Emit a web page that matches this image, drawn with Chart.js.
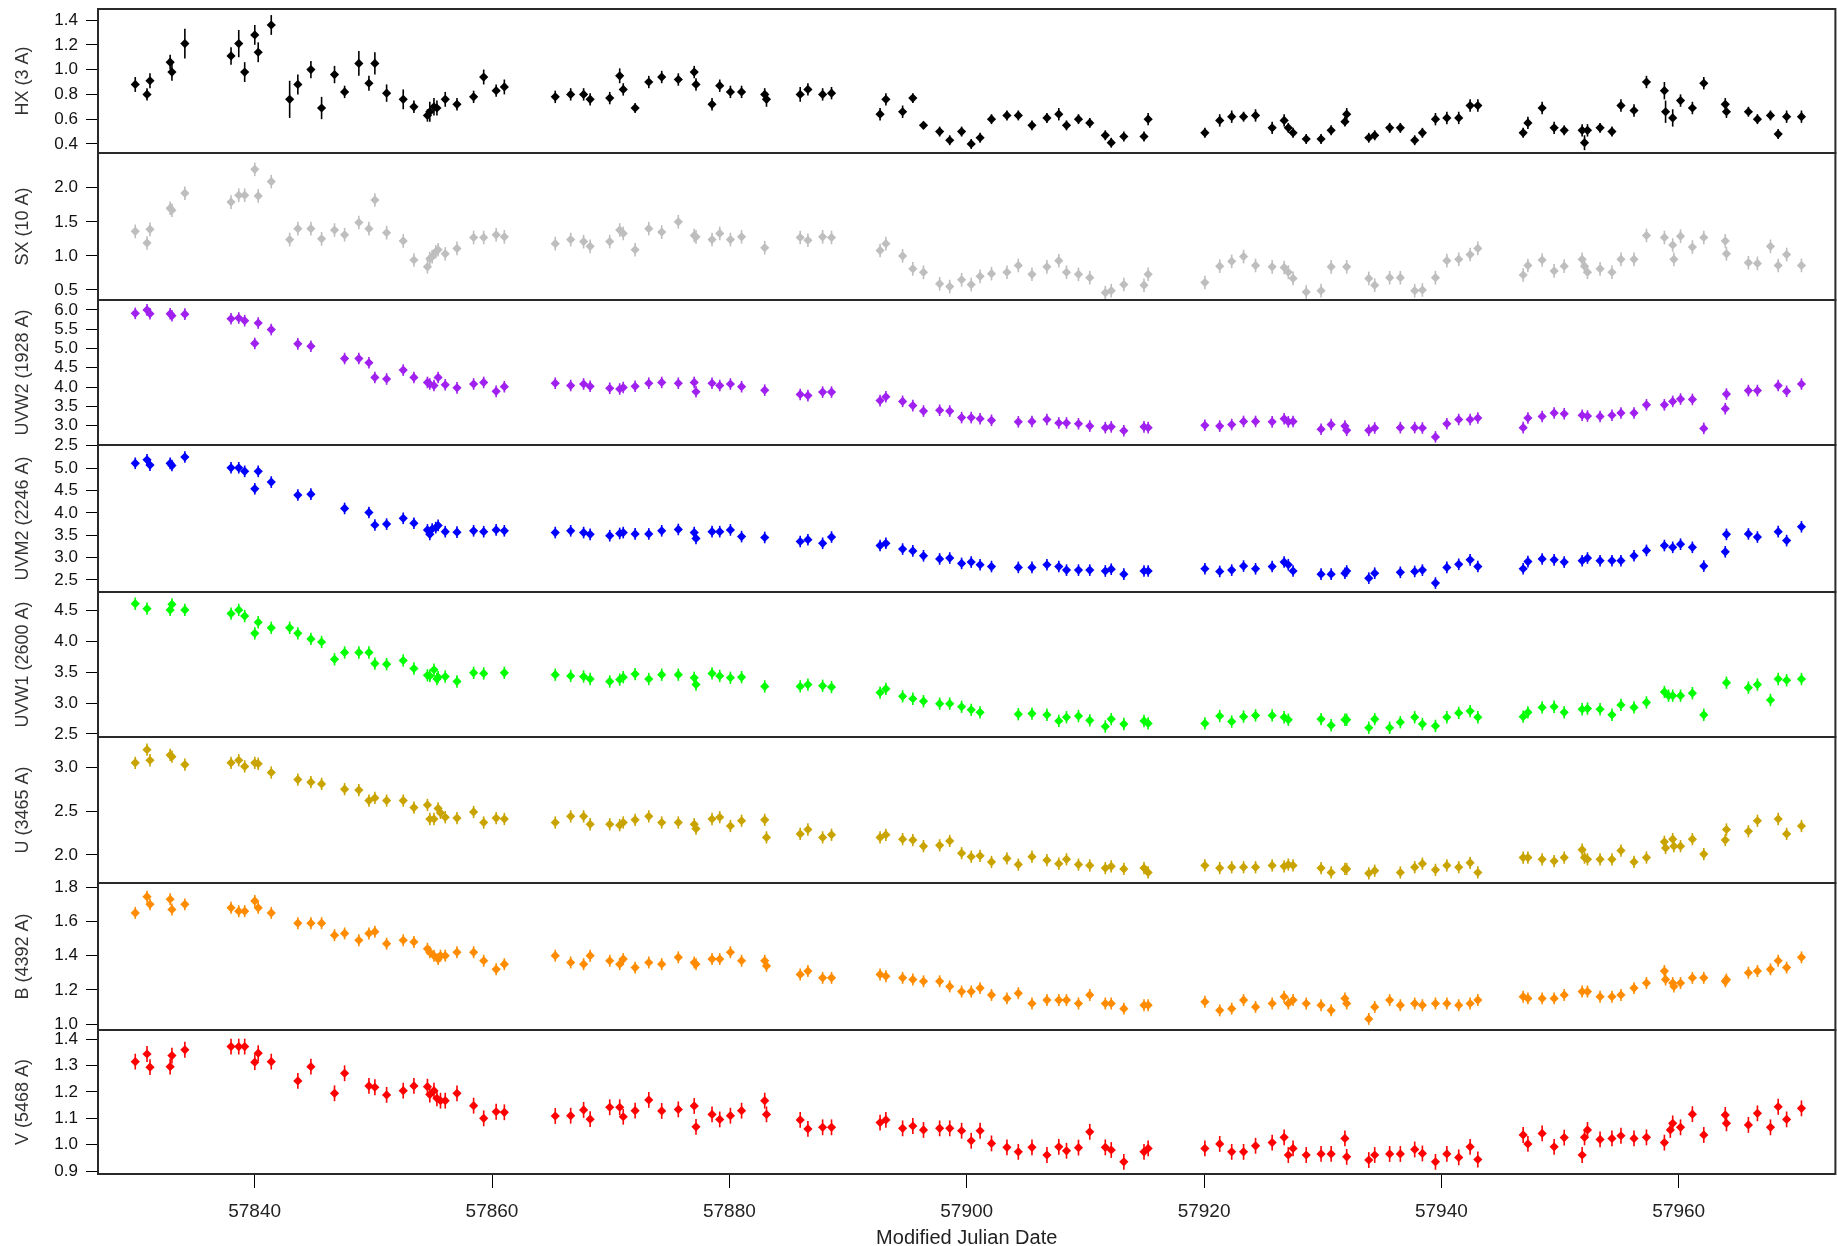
<!DOCTYPE html>
<html>
<head>
<meta charset="utf-8">
<script src="https://cdn.jsdelivr.net/npm/chart.js@4.4.0/dist/chart.umd.min.js"></script>
<style>
  html, body { margin: 0; padding: 0; background: #fff; overflow: hidden; }
  #wrap { position: relative; width: 1837px; height: 1246px; overflow: hidden; }
  #wrap canvas { position: absolute; left: 0; }
</style>
</head>
<body>
<div id="wrap"></div>
<script>
// ---- data (MJD and fluxes) ----
const hxDays = [57829.94, 57830.93, 57831.18, 57832.88, 57833.03, 57834.12, 57838.01, 57838.66, 57839.16, 57840.01, 57840.30, 57841.40,
  57842.95, 57843.64, 57844.74, 57845.64, 57846.73, 57847.58, 57848.78, 57849.63, 57850.13, 57851.12, 57852.52, 57853.42,
  57854.56, 57854.76, 57855.11, 57855.36, 57856.06, 57857.05, 57858.45, 57859.30, 57860.35, 57861.04,
  57865.33, 57866.63, 57867.72, 57868.27, 57869.92, 57870.76, 57871.06, 57872.06, 57873.21, 57874.30, 57875.70, 57877.04, 57877.19, 57878.54, 57879.19, 57880.09, 57881.03, 57882.98, 57883.13,
  57885.97, 57886.62, 57887.86, 57888.61, 57892.70, 57893.19, 57894.60, 57895.46, 57896.36,
  57897.72, 57898.57, 57899.57, 57900.38, 57901.13, 57902.09, 57903.39, 57904.35, 57905.50, 57906.76, 57907.76, 57908.41, 57909.42, 57910.37, 57911.68, 57912.18, 57913.24, 57914.94, 57915.29,
  57920.07, 57921.32, 57922.33, 57923.33, 57924.34, 57925.74, 57926.75, 57927.10, 57927.50, 57928.61, 57929.86, 57930.71, 57931.87, 57932.02, 57933.88, 57934.38, 57935.64, 57936.54, 57937.75, 57938.40, 57939.50, 57940.46, 57941.46, 57942.42, 57943.07,
  57946.89, 57947.29, 57948.49, 57949.50, 57950.35, 57951.86, 57952.06, 57952.31, 57953.37, 57954.37, 57955.13, 57956.23, 57957.28, 57958.79, 57958.89, 57959.49, 57960.15, 57961.15, 57962.11, 57963.92, 57964.02, 57965.87, 57966.63, 57967.73, 57968.38, 57969.09, 57970.34];
const hxRate = [0.88, 0.80, 0.91, 1.06, 0.98, 1.21, 1.11, 1.21, 0.98, 1.28, 1.14, 1.36,
  0.76, 0.88, 1.00, 0.69, 0.96, 0.82, 1.05, 0.89, 1.05, 0.81, 0.76, 0.70,
  0.63, 0.66, 0.70, 0.69, 0.76, 0.72, 0.78, 0.94, 0.83, 0.86,
  0.78, 0.80, 0.80, 0.76, 0.77, 0.95, 0.84, 0.69, 0.90, 0.94, 0.92, 0.98, 0.88, 0.72, 0.87, 0.82, 0.82, 0.80, 0.76,
  0.80, 0.84, 0.80, 0.81, 0.64, 0.76, 0.66, 0.77, 0.55,
  0.50, 0.43, 0.50, 0.40, 0.45, 0.60, 0.63, 0.63, 0.55, 0.61, 0.64, 0.55, 0.60, 0.57, 0.47, 0.41, 0.46, 0.46, 0.60,
  0.49, 0.59, 0.62, 0.62, 0.63, 0.53, 0.59, 0.53, 0.49, 0.44, 0.44, 0.51, 0.58, 0.64, 0.45, 0.47, 0.53, 0.53, 0.43, 0.49, 0.60, 0.61, 0.61, 0.71, 0.71,
  0.49, 0.57, 0.69, 0.53, 0.51, 0.51, 0.41, 0.51, 0.53, 0.50, 0.71, 0.67, 0.90, 0.83, 0.66, 0.61, 0.75, 0.69, 0.89, 0.72, 0.66, 0.66, 0.60, 0.63, 0.48, 0.62, 0.62];
const hxErr = [0.06, 0.05, 0.06, 0.06, 0.07, 0.12, 0.07, 0.11, 0.08, 0.08, 0.08, 0.08,
  0.15, 0.08, 0.07, 0.09, 0.07, 0.05, 0.10, 0.06, 0.09, 0.07, 0.08, 0.05,
  0.05, 0.08, 0.07, 0.06, 0.06, 0.05, 0.05, 0.06, 0.05, 0.06,
  0.05, 0.05, 0.05, 0.05, 0.05, 0.06, 0.05, 0.04, 0.05, 0.05, 0.05, 0.05, 0.05, 0.05, 0.05, 0.05, 0.05, 0.05, 0.06,
  0.06, 0.05, 0.05, 0.05, 0.05, 0.05, 0.05, 0.04, 0.03,
  0.04, 0.04, 0.04, 0.04, 0.04, 0.04, 0.04, 0.04, 0.04, 0.04, 0.05, 0.04, 0.04, 0.04, 0.04, 0.04, 0.04, 0.04, 0.05,
  0.04, 0.05, 0.05, 0.04, 0.05, 0.05, 0.05, 0.04, 0.04, 0.04, 0.04, 0.04, 0.04, 0.05, 0.04, 0.04, 0.04, 0.04, 0.04, 0.04, 0.05, 0.05, 0.05, 0.05, 0.05,
  0.04, 0.05, 0.05, 0.05, 0.04, 0.05, 0.06, 0.05, 0.04, 0.04, 0.05, 0.05, 0.05, 0.07, 0.09, 0.07, 0.05, 0.05, 0.05, 0.05, 0.05, 0.04, 0.04, 0.04, 0.04, 0.05, 0.05];

const sxDays = [57829.94, 57830.93, 57831.18, 57832.88, 57833.03, 57834.12, 57838.01, 57838.66, 57839.16, 57840.01, 57840.30, 57841.40,
  57842.95, 57843.64, 57844.74, 57845.64, 57846.73, 57847.58, 57848.78, 57849.63, 57850.13, 57851.12, 57852.52, 57853.42,
  57854.56, 57854.76, 57854.96, 57855.26, 57855.46, 57856.06, 57857.05, 57858.45, 57859.30, 57860.35, 57861.04,
  57865.33, 57866.63, 57867.72, 57868.27, 57869.92, 57870.76, 57871.06, 57872.06, 57873.21, 57874.30, 57875.70, 57877.04, 57877.19, 57878.54, 57879.19, 57880.09, 57881.03, 57882.98,
  57885.97, 57886.62, 57887.86, 57888.61, 57892.70, 57893.19, 57894.60, 57895.46, 57896.36,
  57897.72, 57898.57, 57899.57, 57900.38, 57901.13, 57902.09, 57903.39, 57904.35, 57905.50, 57906.76, 57907.76, 57908.41, 57909.42, 57910.37, 57911.68, 57912.18, 57913.24, 57914.94, 57915.29,
  57920.07, 57921.32, 57922.33, 57923.33, 57924.34, 57925.74, 57926.75, 57927.10, 57927.50, 57928.61, 57929.86, 57930.71, 57932.02, 57933.88, 57934.38, 57935.64, 57936.54, 57937.75, 57938.40, 57939.50, 57940.46, 57941.46, 57942.42, 57943.07,
  57946.89, 57947.29, 57948.49, 57949.50, 57950.35, 57951.86, 57952.06, 57952.31, 57953.37, 57954.37, 57955.13, 57956.23, 57957.28, 57958.79, 57959.49, 57959.59, 57960.15, 57961.15, 57962.11, 57963.92, 57964.02, 57965.87, 57966.63, 57967.73, 57968.38, 57969.09, 57970.34];
const sxRate = [1.36, 1.19, 1.39, 1.70, 1.67, 1.92, 1.79, 1.89, 1.89, 2.27, 1.88, 2.09,
  1.24, 1.40, 1.40, 1.25, 1.38, 1.31, 1.49, 1.40, 1.82, 1.34, 1.22, 0.94,
  0.84, 0.96, 0.99, 1.06, 1.09, 1.03, 1.11, 1.27, 1.27, 1.31, 1.28,
  1.18, 1.24, 1.21, 1.14, 1.21, 1.38, 1.33, 1.09, 1.40, 1.35, 1.50, 1.30, 1.28, 1.24, 1.33, 1.24, 1.28, 1.12,
  1.27, 1.23, 1.28, 1.27, 1.08, 1.18, 1.00, 0.81, 0.76,
  0.59, 0.55, 0.65, 0.58, 0.70, 0.74, 0.76, 0.86, 0.73, 0.84, 0.93, 0.76, 0.73, 0.68, 0.46, 0.49, 0.58, 0.57, 0.73,
  0.61, 0.85, 0.92, 0.99, 0.86, 0.84, 0.83, 0.76, 0.67, 0.47, 0.49, 0.84, 0.84, 0.67, 0.57, 0.68, 0.68, 0.49, 0.50, 0.68, 0.93, 0.95, 1.02, 1.11,
  0.72, 0.86, 0.94, 0.78, 0.85, 0.95, 0.85, 0.76, 0.81, 0.76, 0.95, 0.95, 1.30, 1.27, 1.16, 0.95, 1.29, 1.13, 1.27, 1.22, 1.03, 0.90, 0.89, 1.14, 0.86, 1.02, 0.86];

const uvw2Days = [57829.94, 57830.93, 57831.18, 57832.88, 57833.03, 57834.12, 57838.01, 57838.66, 57839.16, 57840.01, 57840.30, 57841.40,
  57843.64, 57844.74, 57847.58, 57848.78, 57849.63, 57850.13, 57851.12, 57852.52, 57853.42,
  57854.56, 57854.76, 57855.11, 57855.46, 57856.06, 57857.05, 57858.45, 57859.30, 57860.35, 57861.04,
  57865.33, 57866.63, 57867.72, 57868.27, 57869.92, 57870.76, 57871.06, 57872.06, 57873.21, 57874.30, 57875.70, 57877.04, 57877.19, 57878.54, 57879.19, 57880.09, 57881.03, 57882.98,
  57885.97, 57886.62, 57887.86, 57888.61, 57892.70, 57893.19, 57894.60, 57895.46, 57896.36,
  57897.72, 57898.57, 57899.57, 57900.38, 57901.13, 57902.09, 57904.35, 57905.50, 57906.76, 57907.76, 57908.41, 57909.42, 57910.37, 57911.68, 57912.18, 57913.24, 57914.94, 57915.29,
  57920.07, 57921.32, 57922.33, 57923.33, 57924.34, 57925.74, 57926.75, 57927.10, 57927.50, 57929.86, 57930.71, 57931.87, 57932.02, 57933.88, 57934.38, 57936.54, 57937.75, 57938.40, 57939.50, 57940.46, 57941.46, 57942.42, 57943.07,
  57946.89, 57947.29, 57948.49, 57949.50, 57950.35, 57951.86, 57952.31, 57953.37, 57954.37, 57955.13, 57956.23, 57957.28, 57958.79, 57959.49, 57960.15, 57961.15, 57962.11, 57963.92, 57964.02, 57965.87, 57966.63, 57968.38, 57969.09, 57970.34];
const uvw2Flux = [5.91, 6.00, 5.90, 5.90, 5.85, 5.89, 5.77, 5.79, 5.72, 5.13, 5.66, 5.49,
  5.12, 5.06, 4.74, 4.74, 4.63, 4.25, 4.21, 4.44, 4.25,
  4.12, 4.08, 4.04, 4.25, 4.06, 3.98, 4.08, 4.12, 3.89, 4.01,
  4.10, 4.04, 4.08, 4.02, 3.97, 3.95, 3.99, 4.02, 4.10, 4.12, 4.10, 4.12, 3.88, 4.10, 4.04, 4.08, 4.01, 3.92,
  3.81, 3.78, 3.87, 3.87, 3.65, 3.75, 3.63, 3.52, 3.38,
  3.40, 3.38, 3.21, 3.21, 3.18, 3.14, 3.10, 3.11, 3.16, 3.07, 3.07, 3.05, 2.99, 2.95, 2.97, 2.87, 2.97, 2.95,
  3.01, 2.99, 3.03, 3.11, 3.11, 3.10, 3.18, 3.10, 3.11, 2.91, 3.03, 2.99, 2.88, 2.88, 2.94, 2.95, 2.95, 2.94, 2.71, 3.05, 3.16, 3.16, 3.20,
  2.95, 3.20, 3.24, 3.33, 3.31, 3.27, 3.25, 3.24, 3.27, 3.33, 3.33, 3.54, 3.54, 3.63, 3.69, 3.68, 2.93, 3.44, 3.82, 3.91, 3.91, 4.04, 3.89, 4.08];

const uvm2Days = [57829.94, 57830.93, 57831.18, 57832.88, 57833.03, 57834.12, 57838.01, 57838.66, 57839.16, 57840.01, 57840.30, 57841.40,
  57843.64, 57844.74, 57847.58, 57849.63, 57850.13, 57851.12, 57852.52, 57853.42,
  57854.56, 57854.76, 57854.96, 57855.26, 57855.46, 57856.06, 57857.05, 57858.45, 57859.30, 57860.35, 57861.04,
  57865.33, 57866.63, 57867.72, 57868.27, 57869.92, 57870.76, 57871.06, 57872.06, 57873.21, 57874.30, 57875.70, 57877.04, 57877.19, 57878.54, 57879.19, 57880.09, 57881.03, 57882.98,
  57885.97, 57886.62, 57887.86, 57888.61, 57892.70, 57893.19, 57894.60, 57895.46, 57896.36,
  57897.72, 57898.57, 57899.57, 57900.38, 57901.13, 57902.09, 57904.35, 57905.50, 57906.76, 57907.76, 57908.41, 57909.42, 57910.37, 57911.68, 57912.18, 57913.24, 57914.94, 57915.29,
  57920.07, 57921.32, 57922.33, 57923.33, 57924.34, 57925.74, 57926.75, 57927.10, 57927.50, 57929.86, 57930.71, 57931.87, 57932.02, 57933.88, 57934.38, 57936.54, 57937.75, 57938.40, 57939.50, 57940.46, 57941.46, 57942.42, 57943.07,
  57946.89, 57947.29, 57948.49, 57949.50, 57950.35, 57951.86, 57952.31, 57953.37, 57954.37, 57955.13, 57956.23, 57957.28, 57958.79, 57959.49, 57960.15, 57961.15, 57962.11, 57963.92, 57964.02, 57965.87, 57966.63, 57968.38, 57969.09, 57970.34];
const uvm2Flux = [5.11, 5.19, 5.07, 5.11, 5.06, 5.25, 5.01, 5.01, 4.93, 4.54, 4.93, 4.69,
  4.40, 4.42, 4.10, 4.01, 3.73, 3.75, 3.88, 3.77,
  3.62, 3.52, 3.64, 3.67, 3.72, 3.58, 3.57, 3.60, 3.58, 3.62, 3.60,
  3.56, 3.60, 3.56, 3.52, 3.49, 3.54, 3.56, 3.53, 3.53, 3.60, 3.63, 3.56, 3.43, 3.58, 3.58, 3.62, 3.47, 3.45,
  3.36, 3.40, 3.32, 3.46, 3.27, 3.32, 3.19, 3.15, 3.04,
  2.97, 2.99, 2.87, 2.90, 2.84, 2.80, 2.78, 2.78, 2.84, 2.80, 2.72, 2.72, 2.72, 2.70, 2.74, 2.63, 2.70, 2.70,
  2.75, 2.69, 2.72, 2.81, 2.75, 2.80, 2.90, 2.84, 2.70, 2.63, 2.63, 2.65, 2.70, 2.54, 2.65, 2.67, 2.69, 2.72, 2.43, 2.78, 2.85, 2.95, 2.80,
  2.75, 2.91, 2.97, 2.95, 2.90, 2.93, 2.99, 2.93, 2.93, 2.93, 3.04, 3.16, 3.27, 3.23, 3.30, 3.23, 2.81, 3.13, 3.52, 3.53, 3.46, 3.58, 3.38, 3.69];

const uvw1Days = [57829.94, 57830.93, 57832.88, 57833.03, 57834.12, 57838.01, 57838.66, 57839.16, 57840.01, 57840.30, 57841.40,
  57842.95, 57843.64, 57844.74, 57845.64, 57846.73, 57847.58, 57848.78, 57849.63, 57850.13, 57851.12, 57852.52, 57853.42,
  57854.56, 57854.76, 57855.11, 57855.36, 57855.46, 57856.06, 57857.05, 57858.45, 57859.30, 57861.04,
  57865.33, 57866.63, 57867.72, 57868.27, 57869.92, 57870.76, 57871.06, 57872.06, 57873.21, 57874.30, 57875.70, 57877.04, 57877.19, 57878.54, 57879.19, 57880.09, 57881.03, 57882.98,
  57885.97, 57886.62, 57887.86, 57888.61, 57892.70, 57893.19, 57894.60, 57895.46, 57896.36,
  57897.72, 57898.57, 57899.57, 57900.38, 57901.13, 57904.35, 57905.50, 57906.76, 57907.76, 57908.41, 57909.42, 57910.37, 57911.68, 57912.18, 57913.24, 57914.94, 57915.29,
  57920.07, 57921.32, 57922.33, 57923.33, 57924.34, 57925.74, 57926.75, 57927.10, 57929.86, 57930.71, 57931.87, 57932.02, 57933.88, 57934.38, 57935.64, 57936.54, 57937.75, 57938.40, 57939.50, 57940.46, 57941.46, 57942.42, 57943.07,
  57946.89, 57947.29, 57948.49, 57949.50, 57950.35, 57951.86, 57952.31, 57953.37, 57954.37, 57955.13, 57956.23, 57957.28, 57958.79, 57959.14, 57959.49, 57960.15, 57961.15, 57962.11, 57964.02, 57965.87, 57966.63, 57967.73, 57968.38, 57969.09, 57970.34];
const uvw1Flux = [4.61, 4.53, 4.51, 4.60, 4.51, 4.45, 4.51, 4.41, 4.13, 4.31, 4.22,
  4.22, 4.13, 4.04, 3.99, 3.71, 3.82, 3.82, 3.82, 3.64, 3.63, 3.69, 3.56,
  3.45, 3.44, 3.54, 3.39, 3.42, 3.43, 3.35, 3.49, 3.48, 3.49,
  3.46, 3.44, 3.43, 3.39, 3.35, 3.38, 3.42, 3.47, 3.39, 3.46, 3.46, 3.41, 3.30, 3.48, 3.44, 3.41, 3.42, 3.27,
  3.27, 3.30, 3.28, 3.26, 3.17, 3.23, 3.11, 3.07, 3.03,
  2.99, 2.99, 2.94, 2.89, 2.85, 2.82, 2.83, 2.81, 2.71, 2.77, 2.79, 2.72, 2.62, 2.74, 2.66, 2.71, 2.67,
  2.67, 2.79, 2.70, 2.78, 2.80, 2.80, 2.77, 2.73, 2.74, 2.64, 2.73, 2.73, 2.60, 2.74, 2.60, 2.69, 2.77, 2.66, 2.63, 2.77, 2.84, 2.87, 2.77,
  2.78, 2.85, 2.93, 2.94, 2.85, 2.90, 2.91, 2.90, 2.81, 2.97, 2.93, 3.01, 3.18, 3.12, 3.12, 3.12, 3.16, 2.81, 3.33, 3.25, 3.30, 3.05, 3.39, 3.37, 3.39];

const uDays = [57829.94, 57830.93, 57831.18, 57832.88, 57833.03, 57834.12, 57838.01, 57838.66, 57839.16, 57840.01, 57840.30, 57841.40,
  57843.64, 57844.74, 57845.64, 57847.58, 57848.78, 57849.63, 57850.13, 57851.12, 57852.52, 57853.42,
  57854.56, 57854.76, 57855.11, 57855.46, 57855.66, 57856.06, 57857.05, 57858.45, 57859.30, 57860.35, 57861.04,
  57865.33, 57866.63, 57867.72, 57868.27, 57869.92, 57870.76, 57871.06, 57872.06, 57873.21, 57874.30, 57875.70, 57877.04, 57877.19, 57878.54, 57879.19, 57880.09, 57881.03, 57882.98, 57883.13,
  57885.97, 57886.62, 57887.86, 57888.61, 57892.70, 57893.19, 57894.60, 57895.46, 57896.36,
  57897.72, 57898.57, 57899.57, 57900.38, 57901.13, 57902.09, 57903.39, 57904.35, 57905.50, 57906.76, 57907.76, 57908.41, 57909.42, 57910.37, 57911.68, 57912.18, 57913.24, 57914.94, 57915.29,
  57920.07, 57921.32, 57922.33, 57923.33, 57924.34, 57925.74, 57926.75, 57927.10, 57927.50, 57929.86, 57930.71, 57931.87, 57932.02, 57933.88, 57934.38, 57936.54, 57937.75, 57938.40, 57939.50, 57940.46, 57941.46, 57942.42, 57943.07,
  57946.89, 57947.29, 57948.49, 57949.50, 57950.35, 57951.86, 57952.06, 57952.31, 57953.37, 57954.37, 57955.13, 57956.23, 57957.28, 57958.79, 57958.89, 57959.49, 57959.59, 57960.15, 57961.15, 57962.11, 57963.92, 57964.02, 57965.87, 57966.63, 57968.38, 57969.09, 57970.34];
const uFlux = [3.05, 3.20, 3.08, 3.14, 3.12, 3.03, 3.05, 3.08, 3.01, 3.05, 3.04, 2.94,
  2.86, 2.83, 2.81, 2.75, 2.74, 2.62, 2.65, 2.62, 2.62, 2.54,
  2.57, 2.41, 2.41, 2.53, 2.48, 2.43, 2.42, 2.49, 2.37, 2.42, 2.41,
  2.37, 2.44, 2.44, 2.35, 2.35, 2.34, 2.37, 2.40, 2.44, 2.37, 2.37, 2.35, 2.30, 2.41, 2.43, 2.33, 2.39, 2.40, 2.20,
  2.24, 2.29, 2.20, 2.23, 2.20, 2.23, 2.18, 2.17, 2.10,
  2.11, 2.16, 2.02, 1.98, 1.99, 1.92, 1.96, 1.89, 1.98, 1.94, 1.90, 1.95, 1.89, 1.88, 1.85, 1.87, 1.84, 1.85, 1.80,
  1.88, 1.85, 1.86, 1.86, 1.86, 1.88, 1.87, 1.89, 1.88, 1.85, 1.80, 1.84, 1.84, 1.79, 1.82, 1.80, 1.86, 1.90, 1.83, 1.88, 1.86, 1.91, 1.80,
  1.97, 1.97, 1.95, 1.93, 1.97, 2.06, 1.97, 1.95, 1.95, 1.95, 2.05, 1.92, 1.97, 2.15, 2.08, 2.18, 2.10, 2.10, 2.18, 2.01, 2.17, 2.29, 2.27, 2.39, 2.41, 2.24, 2.33];

const bDays = [57829.94, 57830.93, 57831.18, 57832.88, 57833.03, 57834.12, 57838.01, 57838.66, 57839.16, 57840.01, 57840.30, 57841.40,
  57843.64, 57844.74, 57845.64, 57846.73, 57847.58, 57848.78, 57849.63, 57850.13, 57851.12, 57852.52, 57853.42,
  57854.56, 57854.76, 57855.11, 57855.46, 57855.66, 57856.06, 57857.05, 57858.45, 57859.30, 57860.35, 57861.04,
  57865.33, 57866.63, 57867.72, 57868.27, 57869.92, 57870.76, 57871.06, 57872.06, 57873.21, 57874.30, 57875.70, 57877.04, 57877.19, 57878.54, 57879.19, 57880.09, 57881.03, 57882.98, 57883.13,
  57885.97, 57886.62, 57887.86, 57888.61, 57892.70, 57893.19, 57894.60, 57895.46, 57896.36,
  57897.72, 57898.57, 57899.57, 57900.38, 57901.13, 57902.09, 57903.39, 57904.35, 57905.50, 57906.76, 57907.76, 57908.41, 57909.42, 57910.37, 57911.68, 57912.18, 57913.24, 57914.94, 57915.29,
  57920.07, 57921.32, 57922.33, 57923.33, 57924.34, 57925.74, 57926.75, 57927.10, 57927.50, 57928.61, 57929.86, 57930.71, 57931.87, 57932.02, 57933.88, 57934.38, 57935.64, 57936.54, 57937.75, 57938.40, 57939.50, 57940.46, 57941.46, 57942.42, 57943.07,
  57946.89, 57947.29, 57948.49, 57949.50, 57950.35, 57951.86, 57952.31, 57953.37, 57954.37, 57955.13, 57956.23, 57957.28, 57958.79, 57958.89, 57959.49, 57959.59, 57960.15, 57961.15, 57962.11, 57963.92, 57964.02, 57965.87, 57966.63, 57967.73, 57968.38, 57969.09, 57970.34];
const bFlux = [1.65, 1.745, 1.70, 1.73, 1.67, 1.70, 1.68, 1.66, 1.66, 1.72, 1.68, 1.65,
  1.59, 1.59, 1.59, 1.52, 1.53, 1.49, 1.53, 1.54, 1.47, 1.49, 1.48,
  1.44, 1.42, 1.40, 1.38, 1.40, 1.40, 1.42, 1.42, 1.37, 1.32, 1.35,
  1.40, 1.36, 1.35, 1.40, 1.37, 1.35, 1.38, 1.33, 1.36, 1.35, 1.39, 1.36, 1.35, 1.38, 1.38, 1.42, 1.37, 1.37, 1.34,
  1.29, 1.31, 1.27, 1.27, 1.29, 1.28, 1.27, 1.26, 1.25,
  1.25, 1.22, 1.19, 1.19, 1.21, 1.17, 1.15, 1.18, 1.12, 1.14, 1.14, 1.14, 1.12, 1.17, 1.12, 1.12, 1.09, 1.11, 1.11,
  1.13, 1.08, 1.09, 1.14, 1.10, 1.12, 1.16, 1.12, 1.14, 1.12, 1.11, 1.08, 1.15, 1.12, 1.03, 1.10, 1.14, 1.11, 1.12, 1.11, 1.12, 1.12, 1.11, 1.12, 1.14,
  1.16, 1.15, 1.15, 1.15, 1.17, 1.19, 1.19, 1.16, 1.16, 1.17, 1.21, 1.24, 1.31, 1.26, 1.24, 1.22, 1.24, 1.27, 1.27, 1.25, 1.26, 1.30, 1.31, 1.32, 1.37, 1.33, 1.39];

const vDays = [57829.94, 57830.93, 57831.18, 57832.88, 57833.03, 57834.12, 57838.01, 57838.66, 57839.16, 57840.01, 57840.30, 57841.40,
  57843.64, 57844.74, 57846.73, 57847.58, 57849.63, 57850.13, 57851.12, 57852.52, 57853.42,
  57854.56, 57854.76, 57855.11, 57855.36, 57855.66, 57856.06, 57857.05, 57858.45, 57859.30, 57860.35, 57861.04,
  57865.33, 57866.63, 57867.72, 57868.27, 57869.92, 57870.76, 57871.06, 57872.06, 57873.21, 57874.30, 57875.70, 57877.04, 57877.19, 57878.54, 57879.19, 57880.09, 57881.03, 57882.98, 57883.13,
  57885.97, 57886.62, 57887.86, 57888.61, 57892.70, 57893.19, 57894.60, 57895.46, 57896.36,
  57897.72, 57898.57, 57899.57, 57900.38, 57901.13, 57902.09, 57903.39, 57904.35, 57905.50, 57906.76, 57907.76, 57908.41, 57909.42, 57910.37, 57911.68, 57912.18, 57913.24, 57914.94, 57915.29,
  57920.07, 57921.32, 57922.33, 57923.33, 57924.34, 57925.74, 57926.75, 57927.10, 57927.50, 57928.61, 57929.86, 57930.71, 57931.87, 57932.02, 57933.88, 57934.38, 57935.64, 57936.54, 57937.75, 57938.40, 57939.50, 57940.46, 57941.46, 57942.42, 57943.07,
  57946.89, 57947.29, 57948.49, 57949.50, 57950.35, 57951.86, 57952.06, 57952.31, 57953.37, 57954.37, 57955.13, 57956.23, 57957.28, 57958.79, 57959.29, 57959.49, 57960.15, 57961.15, 57962.11, 57963.92, 57964.02, 57965.87, 57966.63, 57967.73, 57968.38, 57969.09, 57970.34];
const vFlux = [1.315, 1.344, 1.294, 1.296, 1.338, 1.36, 1.372, 1.372, 1.372, 1.313, 1.347, 1.315,
  1.242, 1.296, 1.195, 1.271, 1.223, 1.218, 1.189, 1.205, 1.223,
  1.22, 1.19, 1.205, 1.176, 1.167, 1.167, 1.195, 1.148, 1.10, 1.125, 1.123,
  1.109, 1.110, 1.132, 1.097, 1.142, 1.142, 1.106, 1.129, 1.17, 1.128, 1.134, 1.147, 1.068, 1.115, 1.096, 1.110, 1.129, 1.167, 1.115,
  1.094, 1.06, 1.066, 1.066, 1.084, 1.094, 1.062, 1.071, 1.056,
  1.062, 1.062, 1.053, 1.015, 1.053, 1.005, 0.99, 0.973, 0.99, 0.961, 0.992, 0.977, 0.989, 1.049, 0.99, 0.98, 0.935, 0.973, 0.986,
  0.986, 1.003, 0.973, 0.973, 0.996, 1.008, 1.028, 0.961, 0.986, 0.961, 0.965, 0.965, 1.024, 0.954, 0.942, 0.961, 0.965, 0.965, 0.982, 0.967, 0.935, 0.965, 0.952, 0.992, 0.944,
  1.037, 1.003, 1.043, 0.992, 1.027, 0.961, 1.028, 1.056, 1.02, 1.024, 1.034, 1.024, 1.028, 1.008, 1.056, 1.081, 1.066, 1.116, 1.037, 1.113, 1.081, 1.075, 1.119, 1.066, 1.144, 1.096, 1.138];

// typical 1-sigma errors for the bands without a per-point list
const sxErr = 0.1, uvw2Err = 0.15, uvm2Err = 0.13, uvw1Err = 0.1, uErr = 0.07, bErr = 0.035, vErr = 0.03;

// tick labels
const xTicks = [57840, 57860, 57880, 57900, 57920, 57940, 57960];
const hxTicks = [0.4, 0.6, 0.8, 1.0, 1.2, 1.4];
const sxTicks = [0.5, 1.0, 1.5, 2.0];
const uvw2Ticks = [2.5, 3.0, 3.5, 4.0, 4.5, 5.0, 5.5, 6.0];
const uvm2Ticks = [2.5, 3.0, 3.5, 4.0, 4.5, 5.0];
const uvw1Ticks = [2.5, 3.0, 3.5, 4.0, 4.5];
const uTicks = [2.0, 2.5, 3.0];
const bTicks = [1.0, 1.2, 1.4, 1.6, 1.8];
const vTicks = [0.9, 1.0, 1.1, 1.2, 1.3, 1.4];

// ---- layout ----
const FONT = "'Liberation Sans', Arial, sans-serif";
const W = 1840;
const edges = [9, 153, 300, 445, 592, 737, 883, 1030, 1174];
const pad = 22;
const pageBottom = 1250; // last canvas runs a little past the page edge

const panels = [
  { title: 'HX (3 A)', days: hxDays, vals: hxRate, err: hxErr, color: '#000000', min: 0.327, max: 1.489, ticks: hxTicks },
  { title: 'SX (10 A)', days: sxDays, vals: sxRate, err: sxErr, color: '#bebebe', min: 0.353, max: 2.51, ticks: sxTicks },
  { title: 'UVW2 (1928 A)', days: uvw2Days, vals: uvw2Flux, err: uvw2Err, color: '#a020f0', min: 2.5, max: 6.256, ticks: uvw2Ticks },
  { title: 'UVM2 (2246 A)', days: uvm2Days, vals: uvm2Flux, err: uvm2Err, color: '#0000ff', min: 2.23, max: 5.52, ticks: uvm2Ticks },
  { title: 'UVW1 (2600 A)', days: uvw1Days, vals: uvw1Flux, err: uvw1Err, color: '#00ff00', min: 2.45, max: 4.80, ticks: uvw1Ticks },
  { title: 'U (3465 A)', days: uDays, vals: uFlux, err: uErr, color: '#c9a400', min: 1.68, max: 3.345, ticks: uTicks },
  { title: 'B (4392 A)', days: bDays, vals: bFlux, err: bErr, color: '#ff8c00', min: 0.965, max: 1.825, ticks: bTicks },
  { title: 'V (5468 A)', days: vDays, vals: vFlux, err: vErr, color: '#ff0000', min: 0.889, max: 1.435, ticks: vTicks }
];

// error bars under the markers, and the panel frame on top
const errorBars = {
  id: 'errorBars',
  beforeDatasetsDraw(chart) {
    const ctx = chart.ctx;
    const ys = chart.scales.y;
    chart.data.datasets.forEach((ds, i) => {
      const meta = chart.getDatasetMeta(i);
      ctx.save();
      ctx.strokeStyle = ds.backgroundColor;
      ctx.lineWidth = 1.6;
      meta.data.forEach((pt, j) => {
        const e = Array.isArray(ds.err) ? ds.err[j] : ds.err;
        const v = ds.data[j].y;
        ctx.beginPath();
        ctx.moveTo(pt.x, ys.getPixelForValue(v - e));
        ctx.lineTo(pt.x, ys.getPixelForValue(v + e));
        ctx.stroke();
      });
      ctx.restore();
    });
  }
};

const frame = {
  id: 'frame',
  afterDraw(chart) {
    const { ctx, chartArea: a } = chart;
    ctx.save();
    ctx.strokeStyle = '#2a2a2a';
    ctx.lineWidth = 2;
    ctx.strokeRect(a.left, a.top, a.right - a.left, a.bottom - a.top);
    ctx.restore();
  }
};

const wrap = document.getElementById('wrap');

panels.forEach((p, i) => {
  const last = i === panels.length - 1;
  const top = edges[i] - pad;
  const height = last ? pageBottom - top : edges[i + 1] + pad - top;

  const canvas = document.createElement('canvas');
  canvas.width = W;
  canvas.height = height;
  canvas.style.top = top + 'px';
  canvas.style.width = W + 'px';
  canvas.style.height = height + 'px';
  wrap.appendChild(canvas);

  new Chart(canvas, {
    type: 'scatter',
    data: {
      datasets: [{
        data: p.days.map((d, j) => ({ x: d, y: p.vals[j] })),
        err: p.err,
        backgroundColor: p.color,
        pointStyle: 'rectRot',
        pointRadius: 4.6,
        pointBorderWidth: 0,
        showLine: false
      }]
    },
    options: {
      responsive: false,
      animation: false,
      events: [],
      layout: { padding: { top: pad, bottom: last ? 0 : pad, left: 0, right: 0 } },
      plugins: { legend: { display: false }, tooltip: { enabled: false } },
      scales: {
        x: {
          type: 'linear',
          min: 57826.8,
          max: 57973.2,
          display: last,
          afterBuildTicks: axis => { axis.ticks = xTicks.map(v => ({ value: v })); },
          afterFit: scale => { scale.height = last ? pageBottom - edges[8] : 0; },
          border: { display: false },
          grid: { drawOnChartArea: false, drawTicks: true, tickLength: 14, color: '#000', lineWidth: 1 },
          ticks: {
            autoSkip: false, maxRotation: 0, padding: 12, color: '#222',
            font: { family: FONT, size: 19 },
            callback: v => String(v)
          },
          title: {
            display: true, text: 'Modified Julian Date', color: '#222',
            font: { family: FONT, size: 20 }, padding: { top: 0, bottom: 0 }
          }
        },
        y: {
          min: p.min,
          max: p.max,
          afterBuildTicks: axis => { axis.ticks = p.ticks.map(v => ({ value: v })); },
          afterFit: scale => { scale.width = 98; },
          border: { display: false },
          grid: { drawOnChartArea: false, drawTicks: true, tickLength: 12, color: '#000', lineWidth: 1 },
          ticks: {
            autoSkip: false, padding: 8, color: '#111',
            font: { family: FONT, size: 17 },
            callback: v => v.toFixed(1)
          },
          title: {
            display: true, text: p.title, color: '#333',
            font: { family: FONT, size: 18 }, padding: { top: 12, bottom: 0 }
          }
        }
      }
    },
    plugins: [errorBars, frame]
  });
});
</script>
</body>
</html>
